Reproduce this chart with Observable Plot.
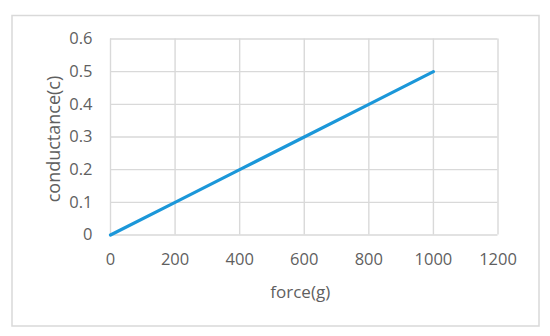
<!DOCTYPE html>
<html>
<head>
<meta charset="utf-8">
<script src="https://cdn.jsdelivr.net/npm/d3@7"></script>
<script src="https://cdn.jsdelivr.net/npm/@observablehq/plot@0.6"></script>
<style>
  html, body { margin: 0; padding: 0; background: #fff; }
  #chart svg { display: block; }
</style>
</head>
<body>
<div id="chart"></div>
<script>
const force = [0, 200, 400, 600, 800, 1000];
const conductance = [0, 0.1, 0.2, 0.3, 0.4, 0.5];
const xTicks = [0, 200, 400, 600, 800, 1000, 1200];
const yTicks = [0, 0.1, 0.2, 0.3, 0.4, 0.5, 0.6];
const xTitle = "force(g)";
const yTitle = "conductance(c)";

const data = force.map((f, i) => ({force: f, conductance: conductance[i]}));
const textColor = "#5f5f5f";
const gridColor = "#d9d9d9";

const chart = Plot.plot({
  width: 550,
  height: 336,
  marginLeft: 110,
  marginRight: 52.5,
  marginTop: 38.5,
  marginBottom: 101.5,
  style: {fontFamily: "'Open Sans', sans-serif", fontSize: "16px", color: textColor, background: "#fff"},
  x: {domain: [0, 1200]},
  y: {domain: [0, 0.6]},
  marks: [
    Plot.gridX(xTicks, {stroke: gridColor, strokeOpacity: 1, strokeWidth: 1.4}),
    Plot.gridY(yTicks, {stroke: gridColor, strokeOpacity: 1, strokeWidth: 1.4}),
    Plot.axisX(xTicks, {tickSize: 0, tickPadding: 18, tickFormat: d => String(d), label: null, fill: textColor, fontSize: 16.5}),
    Plot.axisY(yTicks, {tickSize: 0, tickPadding: 18, tickFormat: d => String(d), label: null, fill: textColor, fontSize: 16.5}),
    Plot.line(data, {x: "force", y: "conductance", stroke: "#1b97d9", strokeWidth: 3.2}),
    Plot.text([xTitle], {text: d => d, frameAnchor: "bottom", textAnchor: "middle", lineAnchor: "middle", dx: -4, dy: 58, fontSize: 17, fill: textColor}),
    Plot.text([yTitle], {text: d => d, frameAnchor: "left", textAnchor: "middle", lineAnchor: "middle", dx: -56, dy: 2, rotate: -90, fontSize: 18, fill: textColor})
  ]
});

d3.select(chart).append("rect")
  .attr("x", 12).attr("y", 15.5)
  .attr("width", 527).attr("height", 310.5)
  .attr("fill", "none").attr("stroke", "#d9d9d9").attr("stroke-width", 1.5);

document.getElementById("chart").append(chart);
</script>
</body>
</html>
